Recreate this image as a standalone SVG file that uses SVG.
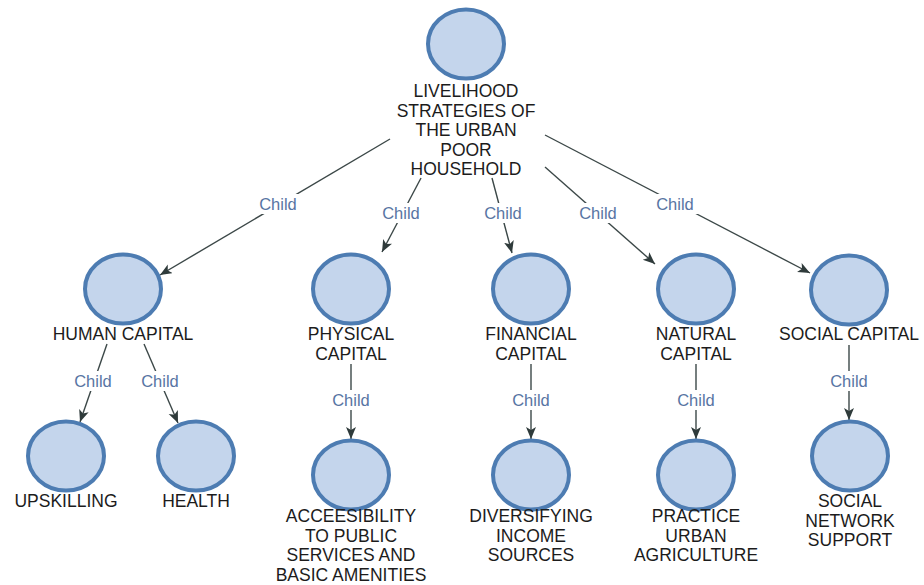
<svg xmlns="http://www.w3.org/2000/svg" width="924" height="585" viewBox="0 0 924 585">
  <style>
    .node ellipse { fill: #c4d5ec; stroke: #4d7cb2; stroke-width: 4; }
    .node text { font-family: "Liberation Sans", Arial, sans-serif; font-size: 17.5px; fill: #1c1c1c; text-anchor: middle; }
    .edge line { stroke: #3c4848; stroke-width: 1.4; marker-end: url(#arrow); }
    .edge rect { fill: #ffffff; }
    .edge text { font-family: "Liberation Sans", Arial, sans-serif; font-size: 16.5px; fill: #5875a3; text-anchor: middle; }
  </style>
  <defs>
    <marker id="arrow" markerUnits="userSpaceOnUse" markerWidth="14" markerHeight="12" refX="12" refY="5" orient="auto">
      <path d="M0,0 L12,5 L0,10 L3,5 z" fill="#2f3b3b"/>
    </marker>
  </defs>
  <rect width="924" height="585" fill="#ffffff"/>

  <!-- connectors -->
  <g id="connectors">
    <g class="edge" id="e-root-human">
      <line x1="390" y1="139" x2="160" y2="275"/>
      <rect x="255" y="194" width="46" height="20"/>
      <text x="278" y="210">Child</text>
    </g>
    <g class="edge" id="e-root-physical">
      <line x1="421" y1="178" x2="382" y2="252"/>
      <rect x="378" y="203" width="46" height="20"/>
      <text x="401" y="219">Child</text>
    </g>
    <g class="edge" id="e-root-financial">
      <line x1="492" y1="178" x2="512" y2="253"/>
      <rect x="480" y="203" width="46" height="20"/>
      <text x="503" y="219">Child</text>
    </g>
    <g class="edge" id="e-root-natural">
      <line x1="545" y1="167" x2="655" y2="264"/>
      <rect x="575" y="203" width="46" height="20"/>
      <text x="598" y="219">Child</text>
    </g>
    <g class="edge" id="e-root-social">
      <line x1="545" y1="135" x2="810" y2="273"/>
      <rect x="652" y="194" width="46" height="20"/>
      <text x="675" y="210">Child</text>
    </g>
    <g class="edge" id="e-human-upskilling">
      <line x1="107" y1="344" x2="80" y2="422"/>
      <rect x="70" y="371" width="46" height="20"/>
      <text x="93" y="387">Child</text>
    </g>
    <g class="edge" id="e-human-health">
      <line x1="144" y1="344" x2="178" y2="423"/>
      <rect x="137" y="371" width="46" height="20"/>
      <text x="160" y="387">Child</text>
    </g>
    <g class="edge" id="e-physical-access">
      <line x1="351" y1="364" x2="351" y2="439"/>
      <rect x="328" y="390" width="46" height="20"/>
      <text x="351" y="406">Child</text>
    </g>
    <g class="edge" id="e-financial-diversifying">
      <line x1="531" y1="364" x2="531" y2="439"/>
      <rect x="508" y="390" width="46" height="20"/>
      <text x="531" y="406">Child</text>
    </g>
    <g class="edge" id="e-natural-practice">
      <line x1="696" y1="364" x2="696" y2="439"/>
      <rect x="673" y="390" width="46" height="20"/>
      <text x="696" y="406">Child</text>
    </g>
    <g class="edge" id="e-social-network">
      <line x1="849" y1="345" x2="849" y2="420"/>
      <rect x="826" y="371" width="46" height="20"/>
      <text x="849" y="387">Child</text>
    </g>
  </g>

  <!-- root -->
  <g class="node" id="n-root">
    <ellipse cx="466" cy="44" rx="38" ry="34.5"/>
    <text x="466" y="97">LIVELIHOOD</text>
    <text x="466" y="116.5">STRATEGIES OF</text>
    <text x="466" y="136">THE URBAN</text>
    <text x="466" y="155.5">POOR</text>
    <text x="466" y="175">HOUSEHOLD</text>
  </g>

  <!-- first level -->
  <g class="node" id="n-human">
    <ellipse cx="123" cy="289" rx="38" ry="34.5"/>
    <text x="123" y="340">HUMAN CAPITAL</text>
  </g>
  <g class="node" id="n-physical">
    <ellipse cx="351" cy="289" rx="38" ry="34.5"/>
    <text x="351" y="340">PHYSICAL</text>
    <text x="351" y="359.5">CAPITAL</text>
  </g>
  <g class="node" id="n-financial">
    <ellipse cx="531" cy="289" rx="38" ry="34.5"/>
    <text x="531" y="340">FINANCIAL</text>
    <text x="531" y="359.5">CAPITAL</text>
  </g>
  <g class="node" id="n-natural">
    <ellipse cx="696" cy="289" rx="38" ry="34.5"/>
    <text x="696" y="340">NATURAL</text>
    <text x="696" y="359.5">CAPITAL</text>
  </g>
  <g class="node" id="n-social">
    <ellipse cx="849" cy="290" rx="38" ry="34.5"/>
    <text x="849" y="340">SOCIAL CAPITAL</text>
  </g>

  <!-- second level -->
  <g class="node" id="n-upskilling">
    <ellipse cx="66" cy="456" rx="38" ry="34.5"/>
    <text x="66" y="507">UPSKILLING</text>
  </g>
  <g class="node" id="n-health">
    <ellipse cx="196" cy="456" rx="38" ry="34.5"/>
    <text x="196" y="507">HEALTH</text>
  </g>
  <g class="node" id="n-access">
    <ellipse cx="351" cy="475" rx="38" ry="34.5"/>
    <text x="351" y="522">ACCEESIBILITY</text>
    <text x="351" y="541.5">TO PUBLIC</text>
    <text x="351" y="561">SERVICES AND</text>
    <text x="351" y="580.5">BASIC AMENITIES</text>
  </g>
  <g class="node" id="n-diversifying">
    <ellipse cx="531" cy="475" rx="38" ry="34.5"/>
    <text x="531" y="522">DIVERSIFYING</text>
    <text x="531" y="541.5">INCOME</text>
    <text x="531" y="561">SOURCES</text>
  </g>
  <g class="node" id="n-practice">
    <ellipse cx="696" cy="475" rx="38" ry="34.5"/>
    <text x="696" y="522">PRACTICE</text>
    <text x="696" y="541.5">URBAN</text>
    <text x="696" y="561">AGRICULTURE</text>
  </g>
  <g class="node" id="n-socialnet">
    <ellipse cx="850" cy="456" rx="38" ry="34.5"/>
    <text x="850" y="507">SOCIAL</text>
    <text x="850" y="526.5">NETWORK</text>
    <text x="850" y="546">SUPPORT</text>
  </g>
</svg>
